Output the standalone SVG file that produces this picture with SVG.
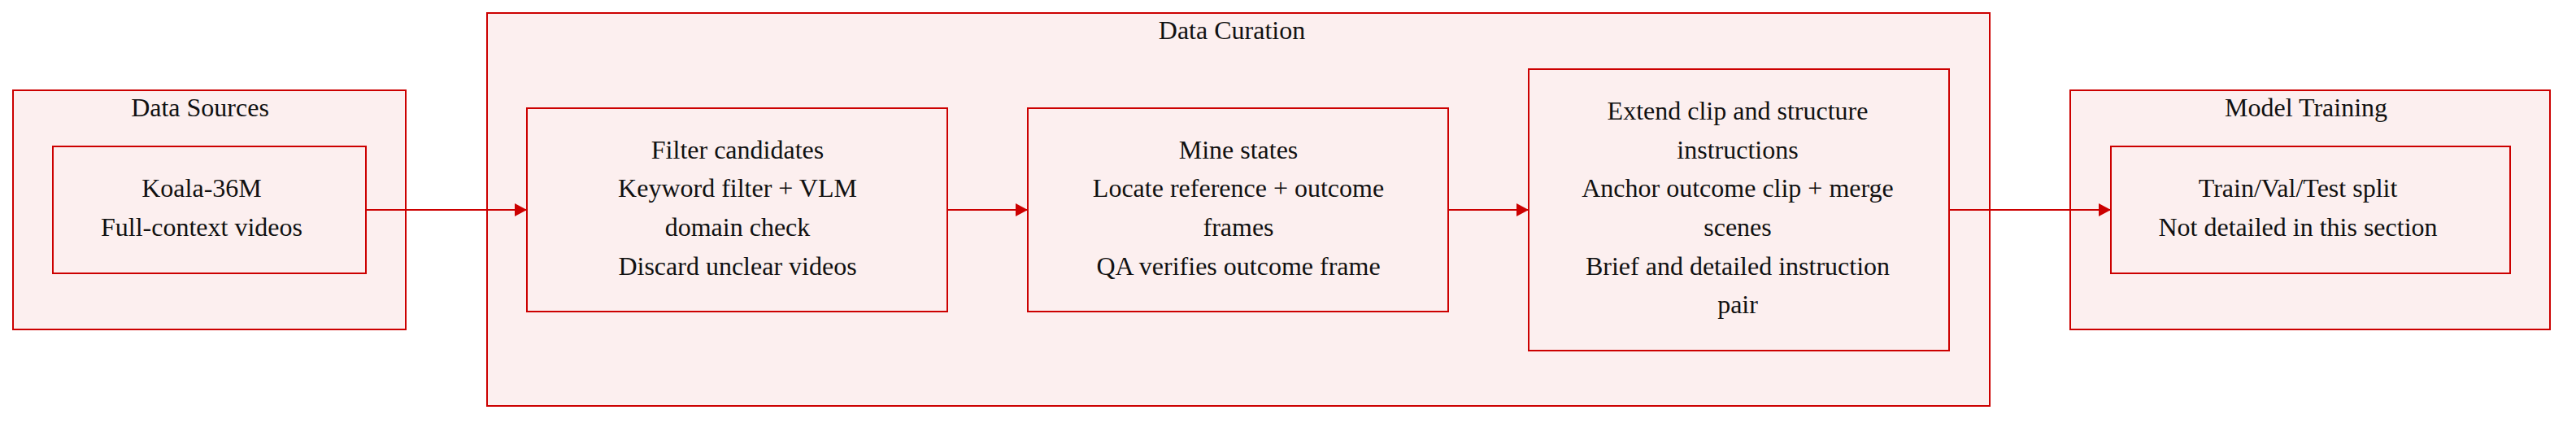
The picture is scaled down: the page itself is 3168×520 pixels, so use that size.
<svg xmlns="http://www.w3.org/2000/svg" width="3168" height="520" viewBox="0 0 3168 520">
<defs>
<style>
.cl{fill:#fcefef;stroke:#cc0000;stroke-width:2}
.nd{fill:#fcefef;stroke:#cc0000;stroke-width:2}
.t{font-family:"Liberation Serif","Times New Roman",serif;font-size:32px;fill:#111;text-anchor:middle}
.e{stroke:#cc0000;stroke-width:2;fill:none}
</style>
<marker id="ah" markerWidth="16" markerHeight="16" refX="15" refY="8" orient="auto" markerUnits="userSpaceOnUse">
<path d="M0,0 L15,8 L0,16 Z" fill="#cc0000"/>
</marker>
</defs>
<rect width="3168" height="520" fill="#ffffff"/>
<g id="cluster-sources">
<rect class="cl" x="16" y="111" width="483" height="294"/>
<text class="t" x="246" y="143">Data Sources</text>
</g>
<g id="cluster-curation">
<rect class="cl" x="599" y="16" width="1848" height="483"/>
<text class="t" x="1515" y="48">Data Curation</text>
</g>
<g id="cluster-training">
<rect class="cl" x="2546" y="111" width="590" height="294"/>
<text class="t" x="2836" y="143">Model Training</text>
</g>
<g id="node-koala">
<rect class="nd" x="65" y="180" width="385" height="156"/>
<text class="t" x="248" y="242">Koala-36M</text>
<text class="t" x="248" y="290">Full-context videos</text>
</g>
<g id="node-filter">
<rect class="nd" x="648" y="133" width="517" height="250"/>
<text class="t" x="907" y="195">Filter candidates</text>
<text class="t" x="907" y="242">Keyword filter + VLM</text>
<text class="t" x="907" y="290">domain check</text>
<text class="t" x="907" y="338">Discard unclear videos</text>
</g>
<g id="node-mine">
<rect class="nd" x="1264" y="133" width="517" height="250"/>
<text class="t" x="1523" y="195">Mine states</text>
<text class="t" x="1523" y="242">Locate reference + outcome</text>
<text class="t" x="1523" y="290">frames</text>
<text class="t" x="1523" y="338">QA verifies outcome frame</text>
</g>
<g id="node-extend">
<rect class="nd" x="1880" y="85" width="517" height="346"/>
<text class="t" x="2137" y="147">Extend clip and structure</text>
<text class="t" x="2137" y="195">instructions</text>
<text class="t" x="2137" y="242">Anchor outcome clip + merge</text>
<text class="t" x="2137" y="290">scenes</text>
<text class="t" x="2137" y="338">Brief and detailed instruction</text>
<text class="t" x="2137" y="385">pair</text>
</g>
<g id="node-split">
<rect class="nd" x="2596" y="180" width="491" height="156"/>
<text class="t" x="2826" y="242">Train/Val/Test split</text>
<text class="t" x="2826" y="290">Not detailed in this section</text>
</g>
<g id="connectors">
<line class="e" x1="450" y1="258" x2="648" y2="258" marker-end="url(#ah)"/>
<line class="e" x1="1165" y1="258" x2="1264" y2="258" marker-end="url(#ah)"/>
<line class="e" x1="1781" y1="258" x2="1880" y2="258" marker-end="url(#ah)"/>
<line class="e" x1="2397" y1="258" x2="2596" y2="258" marker-end="url(#ah)"/>
</g>
</svg>
